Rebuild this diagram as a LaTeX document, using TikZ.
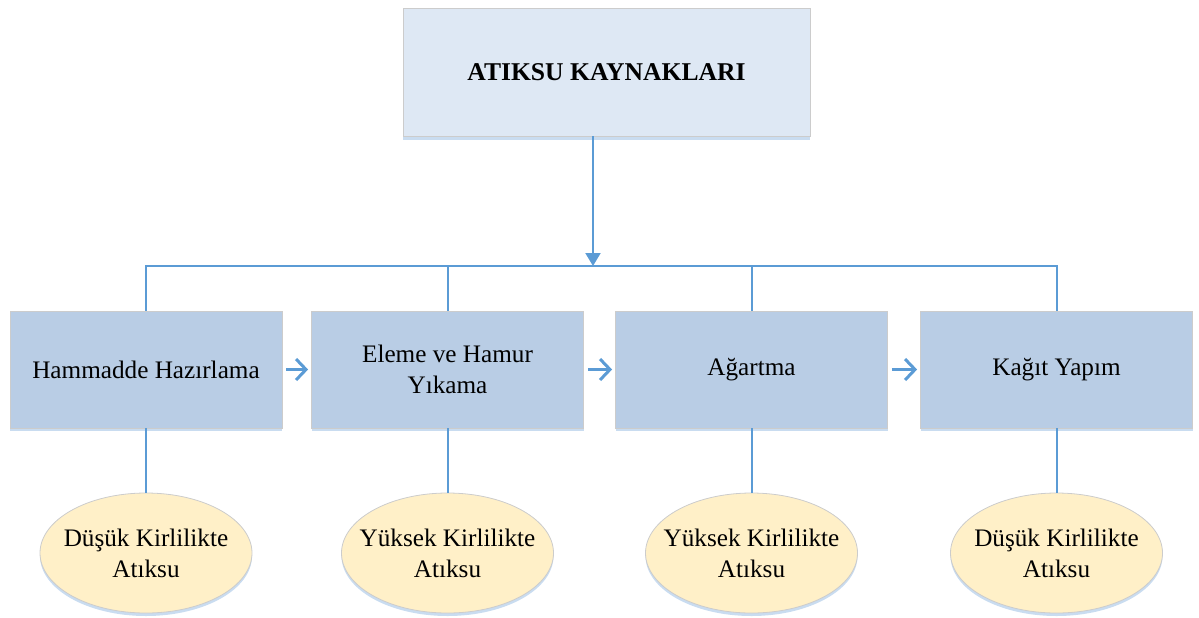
\documentclass[tikz,border=0pt]{standalone}
\usepackage{fontspec}
\setmainfont{Liberation Serif}
\usetikzlibrary{arrows.meta, positioning, shadows, shapes.geometric}
\definecolor{linkblue}{HTML}{5B9BD5}
\definecolor{topfill}{HTML}{DEE8F4}
\definecolor{stepfill}{HTML}{B9CDE5}
\definecolor{wastefill}{HTML}{FFF0C8}
\definecolor{edgegray}{HTML}{CCCCCC}
\definecolor{shadeblue}{HTML}{C9DCF0}

\begin{document}
\begin{tikzpicture}[
  x=0.5pt, y=-0.5pt,
  topbox/.style={
    rectangle,
    draw=edgegray,
    fill=topfill,
    minimum width=203.5pt,
    minimum height=64pt,
    align=center,
    font=\bfseries\fontsize{12.8}{15}\selectfont,
    drop shadow={shadow xshift=0pt, shadow yshift=-1.8pt, fill=shadeblue, opacity=1}
  },
  stepbox/.style={
    rectangle,
    draw=edgegray,
    fill=stepfill,
    minimum width=136pt,
    minimum height=58.5pt,
    align=center,
    font=\fontsize{12.6}{15.5}\selectfont,
    drop shadow={shadow xshift=0pt, shadow yshift=-1.5pt, fill=shadeblue, opacity=1}
  },
  wastebox/.style={
    ellipse,
    draw=edgegray,
    fill=wastefill,
    minimum width=106pt,
    minimum height=60pt,
    inner xsep=-7pt,
    inner ysep=0pt,
    align=center,
    font=\fontsize{12.6}{15.5}\selectfont,
    drop shadow={shadow xshift=0pt, shadow yshift=-1.5pt, fill=shadeblue, opacity=1}
  },
  link/.style={line width=1pt, linkblue},
  arrow/.style={-{Triangle[length=6.5pt, width=7.5pt]}, line width=1pt, linkblue},
  chevron/.style={-{Straight Barb[length=5pt, width=10.5pt]}, line width=1.5pt, linkblue,
    shorten <=2pt, shorten >=1.5pt}
]
  \useasboundingbox (0,0) rectangle (1199,617);

  \node[topbox] (source) at (606.5,72) {ATIKSU KAYNAKLARI};

  \node[stepbox] (raw) at (146,369.5) {Hammadde Hazırlama};
  \node[stepbox] (wash) at (447.5,369.5) {Eleme ve Hamur\\Yıkama};
  \node[stepbox] (bleach) at (751.5,369.5) {Ağartma};
  \node[stepbox] (paper) at (1056.5,369.5) {Kağıt Yapım};

  \node[wastebox] (rawout) at (146,553) {Düşük Kirlilikte\\Atıksu};
  \node[wastebox] (washout) at (447.5,553) {Yüksek Kirlilikte\\Atıksu};
  \node[wastebox] (bleachout) at (751.5,553) {Yüksek Kirlilikte\\Atıksu};
  \node[wastebox] (paperout) at (1056.5,553) {Düşük Kirlilikte\\Atıksu};

  \coordinate (bus) at (593,266);

  % from the source down to the bus
  \draw[arrow] (source.south -| bus) -- (bus);
  \draw[link] (raw.north) -- (raw.north |- bus) -| (paper.north);
  \draw[link] (wash.north) -- (wash.north |- bus);
  \draw[link] (bleach.north) -- (bleach.north |- bus);

  % process order
  \draw[chevron] (raw) -- (wash);
  \draw[chevron] (wash) -- (bleach);
  \draw[chevron] (bleach) -- (paper);

  % waste water of each step
  \draw[link] (raw) -- (rawout);
  \draw[link] (wash) -- (washout);
  \draw[link] (bleach) -- (bleachout);
  \draw[link] (paper) -- (paperout);
\end{tikzpicture}
\end{document}
